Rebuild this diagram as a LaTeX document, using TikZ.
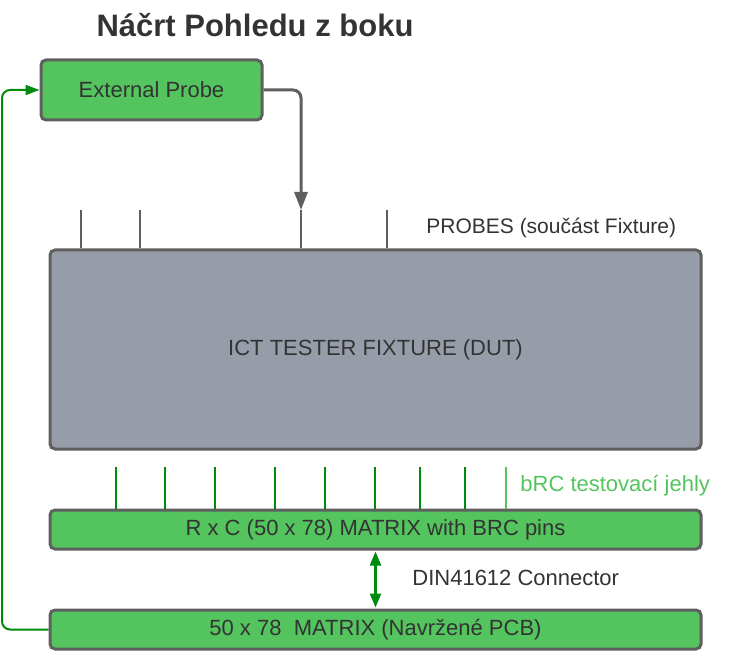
\documentclass[tikz,border=0pt]{standalone}
\usepackage{fontspec}
\setmainfont{Liberation Sans}
\usetikzlibrary{arrows.meta,positioning}

\definecolor{boxgreen}{RGB}{84,196,94}
\definecolor{fixgray}{RGB}{151,157,168}
\definecolor{edgegray}{RGB}{95,95,95}
\definecolor{pingreen}{RGB}{0,138,14}
\definecolor{txtgray}{RGB}{51,51,51}

\begin{document}
\begin{tikzpicture}[x=0.5pt,y=-0.5pt,font=\fontsize{11}{13}\selectfont]
	\tikzset{block/.style={draw=edgegray,line width=1.5pt,rounded corners=2.5pt,text=txtgray,inner sep=0pt}}
	\tikzset{greenbox/.style={block,fill=boxgreen,minimum width=325.5pt,minimum height=19.5pt}}
	\tikzset{probeline/.style={edgegray,line width=1.2pt}}
	\tikzset{pinline/.style={pingreen,line width=1.4pt}}
	\tikzset{label/.style={anchor=west,text=txtgray,inner sep=0pt}}
	\useasboundingbox (0,0) rectangle (742,651);

	\node[text=txtgray,font=\fontsize{15.5}{18}\selectfont\bfseries] (title) at (255,25) {Náčrt Pohledu z boku};
	\node[block,fill=boxgreen,minimum width=110.5pt,minimum height=30pt] (ext) at (151.5,90) {External Probe};
	\node[block,fill=fixgray,minimum width=325.5pt,minimum height=99.5pt] (fixture) at (375.5,349.5) {ICT TESTER FIXTURE (DUT)};
	\node[greenbox] (matrix) at (375.5,529.5) {R x C (50 x 78) MATRIX with BRC pins};
	\node[greenbox] (pcb) at (375.5,629.5) {50 x 78\ \ MATRIX (Navržené PCB)};

	\node[label,font=\fontsize{10.5}{13}\selectfont] (probelbl) at (426,228) {PROBES (součást Fixture)};
	\node[label,text=boxgreen] (pinlbl) at (520,486) {bRC testovací jehly};
	\node[label] (dinlbl) at (412,578) {DIN41612 Connector};

	% probes on the fixture
	\foreach \x [count=\i] in {81,140,301,387}
		\coordinate (probe\i) at (\x,210);
	\foreach \i in {1,...,4}
		\draw[probeline] (probe\i) -- (probe\i |- fixture.north);

	% bRC pins
	\foreach \x [count=\i] in {116,165,215,275,325,375,420,465}
		\draw[pinline] (\x,467) coordinate (pin\i) -- (pin\i |- matrix.north);
	\coordinate (pin9) at (506,467);
	\draw[pinline,boxgreen] (pin9) -- (pin9 |- matrix.north);

	\coordinate (bend) at (2,0);
	\draw[edgegray,line width=1.5pt,rounded corners=4pt,-{Triangle[length=9pt,width=6.5pt]}]
		(ext.east) -| (probe3);
	\draw[pingreen,line width=1pt,rounded corners=4pt,-{Triangle[length=7pt,width=5pt]}]
		(pcb.west) -| (bend |- ext.west) -- (ext.west);
	\draw[pingreen,line width=1.2pt,{Triangle[length=7pt,width=5.5pt]}-{Triangle[length=7pt,width=5.5pt]},shorten <=0.5pt,shorten >=0.5pt]
		(matrix.south) -- (pcb.north);
\end{tikzpicture}
\end{document}
